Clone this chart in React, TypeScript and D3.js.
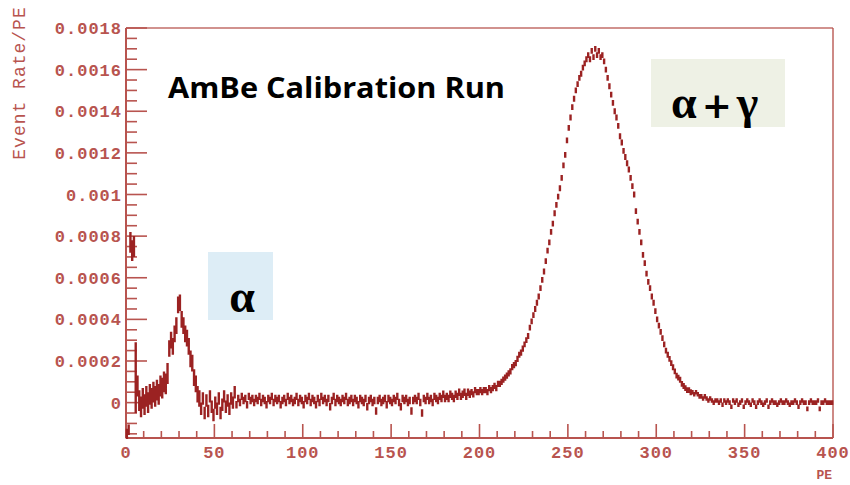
import React from 'react';
import * as d3 from 'd3';

// Histogram contents, Event Rate/PE in units of 1e-5, one bin per PE (0..399)
const RATE_E5: number[] = [
  -15, -13, 77, 73, 75, 12, 8, 1, -2, 2,
  -1, 3, 0, 4, 2, 5, 3, 6, 4, 8,
  7, 10, 9, 14, 26, 30, 27, 33, 37, 47,
  48, 40, 37, 33, 31, 27, 21, 19, 12, 9,
  4, 2, -3, 2, -5, 1, -4, 3, -2, -6,
  0, -3, 2, -5, -1, 3, -2, 1, -3, 2,
  0, 5, -1, 2, 0, 3, 1, 2, -1, 3,
  1, 2, 0, 2, 1, 3, 0, 2, 1, -1,
  2, 1, 3, 0, 2, 1, 2, -1, 1, 2,
  0, 3, 1, 2, 0, 1, 3, 0, 2, 1,
  -1, 2, 1, 3, 0, 2, 1, -1, 2, 0,
  3, 1, 2, 0, 2, -2, 1, 3, 0, 2,
  1, 0, 2, 1, 3, 0, 1, 2, 0, 2,
  1, -1, 2, 1, 0, 2, -2, 1, 2, 0,
  1, -4, 1, 2, 0, 1, 2, -1, 2, 1,
  0, 2, 1, 3, 0, -2, 2, 1, 2, 0,
  1, -4, 1, 2, 1, 3, 0, -5, 2, 1,
  3, 1, 2, 0, 3, 2, 1, 3, 2, 4,
  2, 3, 2, 4, 3, 2, 4, 3, 5, 3,
  4, 5, 3, 5, 4, 5, 4, 6, 5, 5,
  6, 5, 6, 6, 5, 7, 6, 7, 8, 7,
  9, 9, 10, 11, 12, 13, 14, 15, 17, 18,
  19, 21, 23, 24, 26, 28, 30, 32, 36, 39,
  42, 45, 48, 51, 55, 59, 63, 68, 73, 77,
  82, 86, 91, 95, 99, 103, 108, 114, 119, 126,
  132, 137, 142, 146, 150, 153, 156, 158, 161, 163,
  165, 167, 165, 169, 166, 170, 167, 169, 166, 167,
  164, 160, 156, 152, 148, 144, 140, 137, 133, 128,
  125, 121, 118, 115, 112, 108, 104, 100, 92, 87,
  82, 77, 71, 67, 62, 58, 55, 51, 48, 44,
  40, 37, 34, 31, 28, 25, 23, 21, 19, 17,
  15, 13, 12, 11, 9, 8, 7, 6, 6, 5,
  5, 4, 5, 4, 3, 3, 2, 3, 2, 1,
  2, 1, 0, 1, 1, 0, 1, -1, 1, 0,
  1, 0, -2, 1, 0, 1, -1, 0, 1, -2,
  0, 1, 0, -1, 1, 0, -2, 0, 1, 0,
  -1, 0, 1, -2, 0, 1, 0, 0, -1, 0,
  1, 0, 0, 1, 0, -1, 0, 0, 1, 0,
  -2, 0, 1, 0, 0, -3, 0, 1, 0, 0,
  0, 1, -3, 0, 0, 1, 0, 0, 0, 0,
];

// Error bar half-sizes (units of 1e-5), by PE band
const ERR_BAND_START: number[] = [0, 2, 5, 6, 24, 42, 62, 195, 225, 320];
const ERR_BAND_E5: number[] = [2.5, 5, 17, 5, 4, 3, 1.8, 1.5, 1.4, 1.1];

const X_MAJOR: number[] = [0, 50, 100, 150, 200, 250, 300, 350, 400];
const X_LABELS: string[] = ['0', '50', '100', '150', '200', '250', '300', '350', '400'];
const Y_MAJOR: number[] = [0, 0.0002, 0.0004, 0.0006, 0.0008, 0.001, 0.0012, 0.0014, 0.0016, 0.0018];
const Y_LABELS: string[] = ['0', '0.0002', '0.0004', '0.0006', '0.0008', '0.001', '0.0012', '0.0014', '0.0016', '0.0018'];

const AXIS = '#b8544f';
const DATA = '#9b2222';
const MONO = "'Liberation Mono', 'DejaVu Sans Mono', monospace";

export default function App() {
  const W = 850, H = 485;
  const L = 126, R = 833, T = 28, B = 438;
  const x = d3.scaleLinear().domain([0, 400]).range([L, R]);
  const y = d3.scaleLinear().domain([-0.00017, 0.0018]).range([B, T]);

  const errFor = (i: number) => {
    let e = ERR_BAND_E5[0];
    for (let k = 0; k < ERR_BAND_START.length; k++) if (i >= ERR_BAND_START[k]) e = ERR_BAND_E5[k];
    return e;
  };

  let d = '';
  RATE_E5.forEach((v5, i) => {
    const v = v5 * 1e-5;
    const e = errFor(i) * 1e-5;
    const x0 = x(i), x1 = x(i + 1), xc = x(i + 0.5);
    d += `M${x0.toFixed(2)},${y(v).toFixed(2)}H${x1.toFixed(2)}`;
    d += `M${xc.toFixed(2)},${y(v + e).toFixed(2)}V${y(v - e).toFixed(2)}`;
  });

  const yMinor = d3.range(-3, 37).map((k) => k * 0.00005);
  const xMinor = d3.range(0, 41).map((k) => k * 10);

  return (
    <svg width={W} height={H} style={{ position: 'absolute', left: 0, top: 0, background: '#fff' }}>
      <rect x={0} y={0} width={W} height={H} fill="#fff" />
      {/* frame */}
      <line x1={L} y1={T} x2={R} y2={T} stroke={AXIS} strokeWidth={1.6} opacity={0.85} />
      <line x1={R} y1={T} x2={R} y2={B} stroke={AXIS} strokeWidth={1.6} opacity={0.85} />
      <line x1={L} y1={T} x2={L} y2={B} stroke={AXIS} strokeWidth={2} />
      <line x1={L} y1={B} x2={R} y2={B} stroke={AXIS} strokeWidth={2} />
      {/* y ticks */}
      {yMinor.map((t, k) => {
        const major = (k - 3) % 4 === 0 && t >= -1e-9;
        return (
          <line key={'yt' + k} x1={L} x2={L + (major ? 21 : 11)} y1={y(t)} y2={y(t)} stroke={AXIS} strokeWidth={1.6} />
        );
      })}
      {/* x ticks */}
      {xMinor.map((t, k) => {
        const major = k % 5 === 0;
        return (
          <line key={'xt' + k} x1={x(t)} x2={x(t)} y1={B} y2={B - (major ? 14 : 7)} stroke={AXIS} strokeWidth={1.6} />
        );
      })}
      {/* y labels */}
      {Y_MAJOR.map((t, k) => (
        <text key={'yl' + k} x={L - 4} y={y(t)} dy="0.36em" textAnchor="end" fontFamily={MONO} fontSize={17}
          fontWeight="bold" letterSpacing={1} fill={AXIS}>{Y_LABELS[k]}</text>
      ))}
      {/* x labels */}
      {X_MAJOR.map((t, k) => (
        <text key={'xl' + k} x={x(t)} y={458} textAnchor="middle" fontFamily={MONO} fontSize={17}
          fontWeight="bold" letterSpacing={1} fill={AXIS}>{X_LABELS[k]}</text>
      ))}
      <text x={R - 1} y={479} textAnchor="end" fontFamily={MONO} fontSize={13} fontWeight="bold" fill={AXIS}>PE</text>
      <text transform="translate(25,83) rotate(-90)" textAnchor="middle" fontFamily={MONO} fontSize={18}
        letterSpacing={1} fill={AXIS}>Event Rate/PE</text>

      {/* data */}
      <path d={d} fill="none" stroke={DATA} strokeWidth={2.4} />

      {/* annotations */}
      <text x={168} y={98} fontFamily="'Open Sans', sans-serif" fontWeight={700} fontSize={28}
        textLength={337} lengthAdjust="spacingAndGlyphs" fill="#000">AmBe Calibration Run</text>
      <rect x={208} y={252} width={65} height={68} fill="#ddedf6" />
      <text x={242} y={312} textAnchor="middle" fontFamily="'Liberation Serif', serif" fontSize={46} fontWeight="bold" fill="#000">α</text>
      <rect x={651} y={59} width={134} height={68} fill="#eef1e5" />
      <text x={671} y={118} fontFamily="'Liberation Serif', serif" fontSize={46} fontWeight="bold" fill="#000">
        <tspan>α</tspan>
        <tspan dx={5} fontFamily="'DejaVu Sans', sans-serif" fontWeight="bold" fontSize={36}>+</tspan>
        <tspan dx={5}>γ</tspan>
      </text>
    </svg>
  );
}
